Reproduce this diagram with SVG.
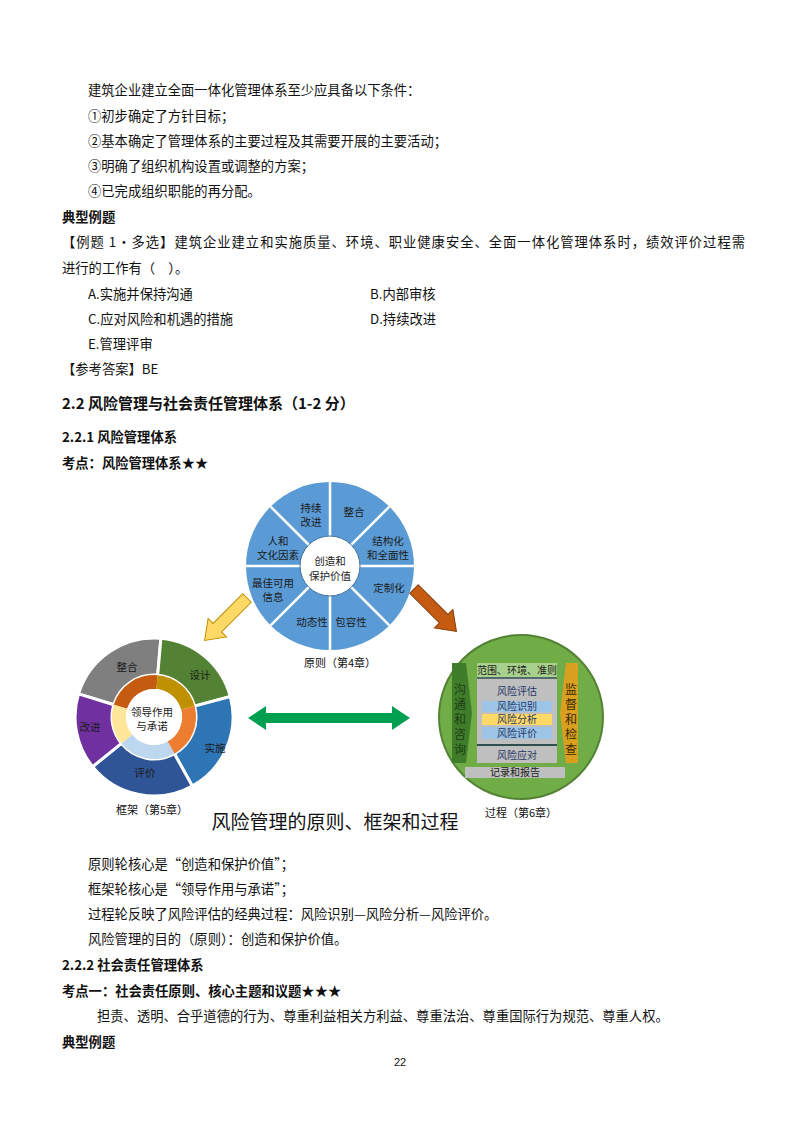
<svg xmlns="http://www.w3.org/2000/svg" width="800" height="1132" viewBox="0 0 800 1132">
<style>
.t{font-family:"Noto Sans CJK SC","Liberation Serif",serif;font-size:13.3px;fill:#111}
.b{font-family:"Noto Sans CJK SC","Liberation Sans",sans-serif;font-size:13.3px;font-weight:bold;fill:#111}
.d{font-family:"Noto Sans CJK SC","Liberation Sans",sans-serif;font-size:11px;fill:#111;text-anchor:middle}
.w{font-family:"Noto Sans CJK SC","Liberation Sans",sans-serif;font-size:10.5px;fill:#1a1a1a;text-anchor:middle}
.p{font-family:"Noto Sans CJK SC","Liberation Sans",sans-serif;font-size:10px;fill:#1f3864;text-anchor:middle}
.v{font-family:"Noto Sans CJK SC","Liberation Sans",sans-serif;font-size:12px;text-anchor:middle}
</style>
<rect width="800" height="1132" fill="#fff"/>
<g id="text-top">
<text class="t" x="88" y="95">建筑企业建立全面一体化管理体系至少应具备以下条件：</text>
<text class="t" x="88" y="121">①初步确定了方针目标；</text>
<text class="t" x="88" y="146">②基本确定了管理体系的主要过程及其需要开展的主要活动；</text>
<text class="t" x="88" y="171">③明确了组织机构设置或调整的方案；</text>
<text class="t" x="88" y="196">④已完成组织职能的再分配。</text>
<text class="b" x="62" y="222">典型例题</text>
<text class="t" x="62" y="247" textLength="683">【例题 1・多选】建筑企业建立和实施质量、环境、职业健康安全、全面一体化管理体系时，绩效评价过程需</text>
<text class="t" x="62" y="273">进行的工作有（　）。</text>
<text class="t" x="88" y="299">A.实施并保持沟通</text>
<text class="t" x="370" y="299">B.内部审核</text>
<text class="t" x="88" y="324">C.应对风险和机遇的措施</text>
<text class="t" x="370" y="324">D.持续改进</text>
<text class="t" x="88" y="349">E.管理评审</text>
<text class="t" x="62" y="374">【参考答案】BE</text>
<text class="b" x="62" y="409" style="font-size:15px">2.2  风险管理与社会责任管理体系（1-2 分）</text>
<text class="b" x="62" y="442">2.2.1 风险管理体系</text>
<text class="b" x="62" y="468">考点：风险管理体系★★</text>
</g>
<g id="principles">
<circle cx="330" cy="566" r="84" fill="#5b9bd5"/>
<g stroke="#fff" stroke-width="2.5">
<line x1="330" y1="566" x2="414" y2="566"/><line x1="330" y1="566" x2="389.4" y2="625.4"/>
<line x1="330" y1="566" x2="330" y2="650"/><line x1="330" y1="566" x2="270.6" y2="625.4"/>
<line x1="330" y1="566" x2="246" y2="566"/><line x1="330" y1="566" x2="270.6" y2="506.6"/>
<line x1="330" y1="566" x2="330" y2="482"/><line x1="330" y1="566" x2="389.4" y2="506.6"/>
</g>
<circle cx="330" cy="566" r="30" fill="#fff" stroke="#41719c" stroke-width="1"/>
<text class="w" x="311" y="512">持续</text><text class="w" x="311" y="526">改进</text>
<text class="w" x="354" y="516">整合</text>
<text class="w" x="388" y="545">结构化</text><text class="w" x="388" y="559">和全面性</text>
<text class="w" x="389" y="592">定制化</text>
<text class="w" x="351" y="626">包容性</text>
<text class="w" x="312" y="626">动态性</text>
<text class="w" x="273" y="587">最佳可用</text><text class="w" x="273" y="601">信息</text>
<text class="w" x="278" y="545">人和</text><text class="w" x="278" y="559">文化因素</text>
<text class="w" x="330" y="565">创造和</text><text class="w" x="330" y="580">保护价值</text>
<text class="d" x="340" y="667">原则（第4章）</text>
</g>
<g id="framework">
<g stroke="#fff" stroke-width="3">
<path d="M78.5,693.9 A79,79 0 0 1 160.9,638.3 L157.7,675.2 A42,42 0 0 0 113.8,704.7 Z" fill="#7f7f7f"/>
<path d="M160.9,638.3 A79,79 0 0 1 230.3,696.5 L194.6,706.1 A42,42 0 0 0 157.7,675.2 Z" fill="#548235"/>
<path d="M230.3,696.5 A79,79 0 0 1 192.3,786.1 L174.4,753.7 A42,42 0 0 0 194.6,706.1 Z" fill="#2e75b6"/>
<path d="M192.3,786.1 A79,79 0 0 1 92.6,766.7 L121.4,743.4 A42,42 0 0 0 174.4,753.7 Z" fill="#2f5597"/>
<path d="M92.6,766.7 A79,79 0 0 1 78.5,693.9 L113.8,704.7 A42,42 0 0 0 121.4,743.4 Z" fill="#7030a0"/>
</g>
<path d="M113.8,704.7 A42,42 0 0 1 157.7,675.2 L156.4,689.1 A28,28 0 0 0 127.2,708.8 Z" fill="#c55a11"/>
<path d="M157.7,675.2 A42,42 0 0 1 194.6,706.1 L181,709.7 A28,28 0 0 0 156.4,689.1 Z" fill="#bf9000"/>
<path d="M194.6,706.1 A42,42 0 0 1 174.4,753.7 L167.6,741.5 A28,28 0 0 0 181,709.7 Z" fill="#ed7d31"/>
<path d="M174.4,753.7 A42,42 0 0 1 121.4,743.4 L132.2,734.6 A28,28 0 0 0 167.6,741.5 Z" fill="#bdd7ee"/>
<path d="M121.4,743.4 A42,42 0 0 1 113.8,704.7 L127.2,708.8 A28,28 0 0 0 132.2,734.6 Z" fill="#ffe699"/>
<circle cx="154" cy="717" r="28" fill="#fff"/>
<text class="w" x="127" y="671">整合</text>
<text class="w" x="200" y="679">设计</text>
<text class="w" x="215" y="752">实施</text>
<text class="w" x="145" y="777">评价</text>
<text class="w" x="90" y="731">改进</text>
<text class="w" x="152" y="716">领导作用</text><text class="w" x="152" y="730">与承诺</text>
<text class="d" x="152" y="814">框架（第5章）</text>
</g>
<g id="process">
<circle cx="521" cy="717" r="82" fill="#70ad47" stroke="#548235" stroke-width="2"/>
<polygon points="452,663 466,663 472,713 466,763 452,763" fill="#3f7d2a"/>
<polygon points="578,663 566,663 560,713 566,763 578,763" fill="#d9a020"/>
<rect x="477" y="663" width="80" height="100" fill="#bfbfbf"/>
<rect x="477" y="663" width="80" height="14" fill="#a9d18e"/>
<line x1="477" y1="678" x2="557" y2="678" stroke="#2f4f4f" stroke-width="1.5"/>
<rect x="482" y="701" width="70" height="11" fill="#9dc3e6"/>
<rect x="482" y="714" width="70" height="11" fill="#ffd966"/>
<rect x="482" y="727" width="70" height="12" fill="#9dc3e6"/>
<line x1="477" y1="745" x2="557" y2="745" stroke="#2f4f4f" stroke-width="2"/>
<rect x="465" y="767" width="100" height="11" fill="#bfbfbf"/>
<text class="p" x="517" y="674" style="fill:#1a1a1a">范围、环境、准则</text>
<text class="p" x="517" y="695">风险评估</text>
<text class="p" x="517" y="710">风险识别</text>
<text class="p" x="517" y="723">风险分析</text>
<text class="p" x="517" y="737">风险评价</text>
<text class="p" x="517" y="759">风险应对</text>
<text class="p" x="515" y="776" style="fill:#1a1a1a">记录和报告</text>
<g fill="#1e3d14">
<text x="460" y="694" class="v">沟</text><text x="460" y="709" class="v">通</text><text x="460" y="724" class="v">和</text><text x="460" y="739" class="v">咨</text><text x="460" y="754" class="v">询</text>
</g>
<g fill="#3a2a00">
<text x="571" y="694" class="v">监</text><text x="571" y="709" class="v">督</text><text x="571" y="724" class="v">和</text><text x="571" y="739" class="v">检</text><text x="571" y="754" class="v">查</text>
</g>
<text class="d" x="521" y="817">过程（第6章）</text>
</g>
<g id="connectors">
<polygon points="0,-6 42,-6 42,-13 60,0 42,13 42,6 0,6" fill="#ffd966" stroke="#bf9000" transform="translate(247,598) rotate(135)"/>
<polygon points="0,-6 42,-6 42,-13 60,0 42,13 42,6 0,6" fill="#c55a11" stroke="#843c0c" transform="translate(414,589) rotate(45)"/>
<polygon points="248,718 266,706 266,713 392,713 392,706 410,718 392,730 392,723 266,723 266,730" fill="#00a050"/>
</g>
<text x="335" y="829" style="font-family:'Noto Sans CJK SC','Liberation Sans',sans-serif;font-size:19px;fill:#111" text-anchor="middle">风险管理的原则、框架和过程</text>
<g id="text-bottom">
<text class="t" x="88" y="869">原则轮核心是“创造和保护价值”；</text>
<text class="t" x="88" y="894">框架轮核心是“领导作用与承诺”；</text>
<text class="t" x="88" y="919">过程轮反映了风险评估的经典过程：风险识别—风险分析—风险评价。</text>
<text class="t" x="88" y="944">风险管理的目的（原则）：创造和保护价值。</text>
<text class="b" x="62" y="970">2.2.2 社会责任管理体系</text>
<text class="b" x="62" y="996">考点一：社会责任原则、核心主题和议题★★★</text>
<text class="t" x="97" y="1021">担责、透明、合乎道德的行为、尊重利益相关方利益、尊重法治、尊重国际行为规范、尊重人权。</text>
<text class="b" x="62" y="1047">典型例题</text>
<text x="400" y="1066" text-anchor="middle" style="font-family:'Liberation Sans',sans-serif;font-size:11px;fill:#111">22</text>
</g>
</svg>
